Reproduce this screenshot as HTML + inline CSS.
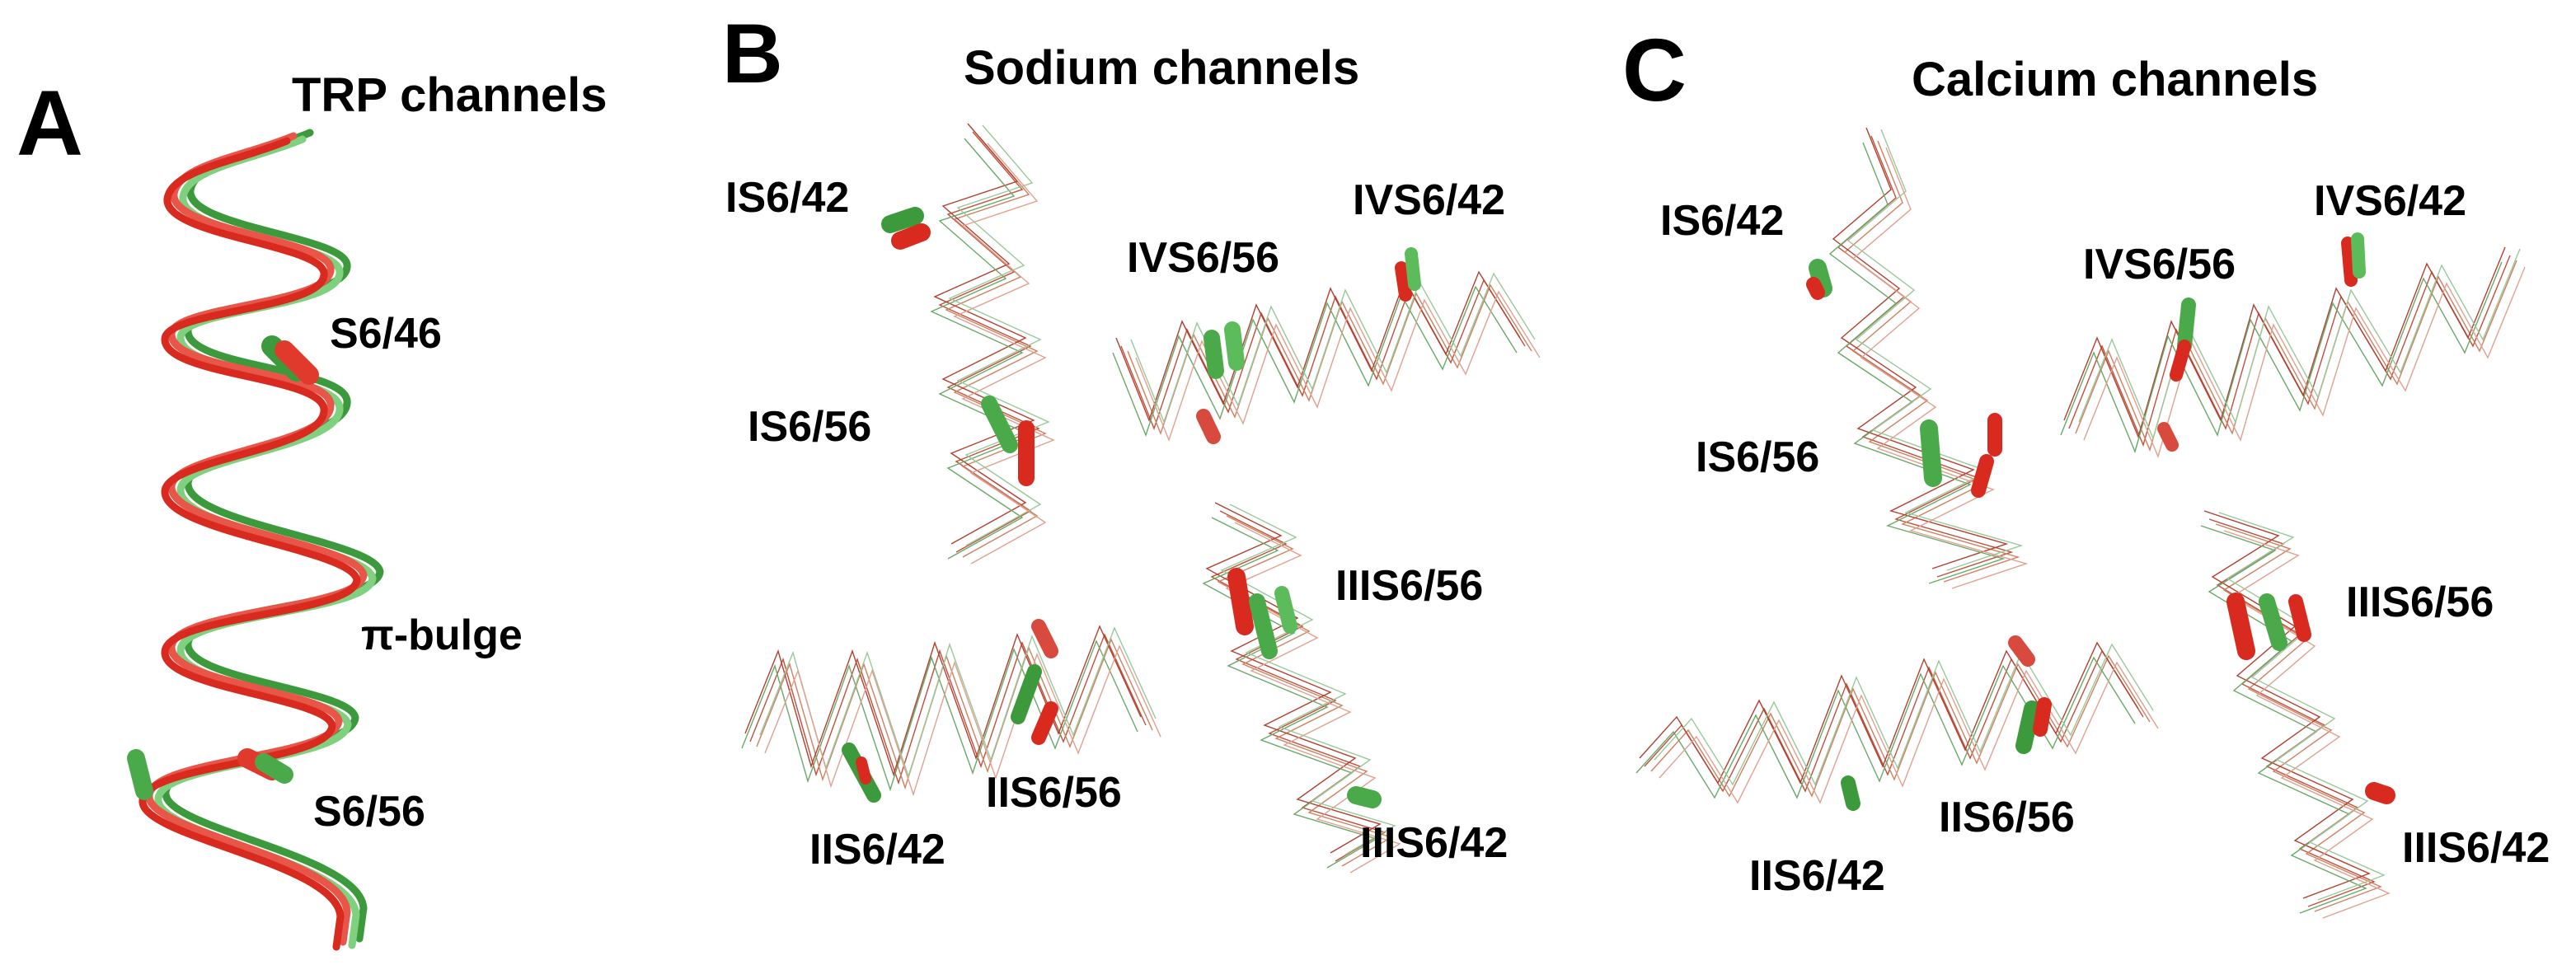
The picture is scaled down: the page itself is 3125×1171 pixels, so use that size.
<!DOCTYPE html>
<html><head><meta charset="utf-8"><style>
html,body{margin:0;padding:0;background:#fff;}
svg{display:block;}
text{font-family:"Liberation Sans",sans-serif;font-weight:bold;fill:#000;}
.w{fill:none;stroke-width:1.4;stroke-linejoin:miter;}
</style></head><body>
<svg width="3125" height="1171" viewBox="0 0 3125 1171" xmlns="http://www.w3.org/2000/svg">
<rect width="3125" height="1171" fill="#fff"/>
<defs>
<path id="bI" d="M1180,160 L1240,230 L1150,260 L1230,330 L1140,370 L1250,420 L1150,470 L1260,520 L1160,560 L1250,620 L1160,670"/>
<path id="bIV" d="M1360,420 L1400,520 L1440,400 L1490,500 L1530,380 L1580,480 L1620,360 L1670,460 L1710,350 L1760,440 L1800,340 L1850,420"/>
<path id="bIII" d="M1480,620 L1560,660 L1470,700 L1580,760 L1500,800 L1620,850 L1540,890 L1650,930 L1580,980 L1680,1010 L1620,1045"/>
<path id="bII" d="M910,900 L950,800 L990,940 L1040,800 L1090,950 L1140,790 L1190,930 L1240,780 L1290,900 L1340,770 L1390,880"/>
<path id="cI" d="M2270,165 L2300,240 L2230,300 L2310,360 L2240,420 L2330,480 L2260,530 L2400,580 L2300,630 L2440,670 L2350,700"/>
<path id="cIV" d="M2510,520 L2550,420 L2600,540 L2640,400 L2700,520 L2740,380 L2800,490 L2840,360 L2900,460 L2950,330 L3000,420 L3045,310"/>
<path id="cIII" d="M2680,630 L2770,660 L2690,710 L2790,770 L2720,830 L2820,880 L2750,930 L2860,980 L2790,1030 L2880,1070 L2800,1100"/>
<path id="cII" d="M1995,930 L2040,880 L2090,960 L2140,860 L2190,960 L2240,830 L2290,940 L2340,810 L2390,920 L2440,800 L2500,900 L2550,790 L2600,870"/>
<g id="chains">
<use href="#bI"/><use href="#bIV"/><use href="#bIII"/><use href="#bII"/>
<use href="#cI"/><use href="#cIV"/><use href="#cIII"/><use href="#cII"/>
</g>
<path id="helix" d="M360,165 C300,190 220,200 215,235 C210,280 400,290 405,325 C410,370 215,370 212,405 C210,450 400,450 405,490 C410,540 215,550 212,590 C210,640 440,660 445,698 C440,740 215,740 212,785 C210,830 410,840 415,875 C410,920 190,920 185,965 C180,1010 420,1040 425,1106 L420,1143"/>
</defs>
<g fill="none" stroke-linecap="round" stroke-width="9">
<use href="#helix" stroke="#3c9a3c" transform="translate(16,-4)"/>
<use href="#helix" stroke="#7fd07f" transform="translate(7,4)"/>
<use href="#helix" stroke="#e8564a" transform="translate(-4,0)"/>
<use href="#helix" stroke="#d82a1e" transform="translate(-12,6)"/>
</g>
<g stroke-linecap="round">
<line x1="330" y1="420" x2="360" y2="450" stroke="#3c9a3c" stroke-width="26"/>
<line x1="345" y1="425" x2="375" y2="455" stroke="#e03a2c" stroke-width="24"/>
<line x1="165" y1="920" x2="175" y2="960" stroke="#4aaa4a" stroke-width="22"/>
<line x1="300" y1="920" x2="330" y2="935" stroke="#e03a2c" stroke-width="24"/>
<line x1="320" y1="925" x2="345" y2="940" stroke="#4aaa4a" stroke-width="22"/>
</g>
<g class="w" stroke="#c0503a"><use href="#chains"/></g>
<g class="w" stroke="#d08060" transform="translate(8,6)"><use href="#chains"/></g>
<g class="w" stroke="#b04030" transform="translate(-6,-10)"><use href="#chains"/></g>
<g class="w" stroke="#6aa86a" transform="translate(-10,8)"><use href="#chains"/></g>
<g class="w" stroke="#9ac89a" transform="translate(12,-8)"><use href="#chains"/></g>
<g class="w" stroke="#e0a090" transform="translate(18,14)"><use href="#chains"/></g>
<g stroke-linecap="round">
<line x1="1080" y1="272" x2="1110" y2="262" stroke="#3c9a3c" stroke-width="22"/>
<line x1="1092" y1="292" x2="1118" y2="282" stroke="#d82a1e" stroke-width="22"/>
<line x1="1200" y1="490" x2="1225" y2="540" stroke="#4aaa4a" stroke-width="20"/>
<line x1="1245" y1="520" x2="1245" y2="580" stroke="#d82a1e" stroke-width="20"/>
<line x1="1470" y1="410" x2="1475" y2="450" stroke="#4aaa4a" stroke-width="20"/>
<line x1="1495" y1="400" x2="1500" y2="440" stroke="#5cbc5c" stroke-width="20"/>
<line x1="1460" y1="505" x2="1472" y2="530" stroke="#d84a3e" stroke-width="18"/>
<line x1="1700" y1="325" x2="1705" y2="358" stroke="#d82a1e" stroke-width="16"/>
<line x1="1712" y1="308" x2="1716" y2="345" stroke="#5cbc5c" stroke-width="16"/>
<line x1="1500" y1="700" x2="1510" y2="760" stroke="#d82a1e" stroke-width="22"/>
<line x1="1525" y1="730" x2="1540" y2="790" stroke="#4aaa4a" stroke-width="20"/>
<line x1="1555" y1="720" x2="1565" y2="760" stroke="#5cbc5c" stroke-width="18"/>
<line x1="1260" y1="760" x2="1275" y2="790" stroke="#d84a3e" stroke-width="18"/>
<line x1="1255" y1="815" x2="1235" y2="870" stroke="#3c9a3c" stroke-width="18"/>
<line x1="1275" y1="860" x2="1260" y2="895" stroke="#d82a1e" stroke-width="18"/>
<line x1="1030" y1="910" x2="1060" y2="965" stroke="#3c9a3c" stroke-width="18"/>
<line x1="1045" y1="925" x2="1050" y2="945" stroke="#d82a1e" stroke-width="14"/>
<line x1="1645" y1="965" x2="1665" y2="970" stroke="#4aaa4a" stroke-width="22"/>
<line x1="2205" y1="325" x2="2212" y2="350" stroke="#4aaa4a" stroke-width="22"/>
<line x1="2200" y1="345" x2="2205" y2="355" stroke="#d82a1e" stroke-width="18"/>
<line x1="2340" y1="520" x2="2345" y2="580" stroke="#4aaa4a" stroke-width="22"/>
<line x1="2420" y1="510" x2="2420" y2="545" stroke="#d82a1e" stroke-width="18"/>
<line x1="2410" y1="560" x2="2400" y2="595" stroke="#d82a1e" stroke-width="18"/>
<line x1="2655" y1="370" x2="2650" y2="420" stroke="#4aaa4a" stroke-width="18"/>
<line x1="2650" y1="420" x2="2640" y2="455" stroke="#d82a1e" stroke-width="16"/>
<line x1="2625" y1="520" x2="2635" y2="540" stroke="#d84a3e" stroke-width="16"/>
<line x1="2848" y1="295" x2="2852" y2="340" stroke="#d82a1e" stroke-width="16"/>
<line x1="2860" y1="290" x2="2862" y2="330" stroke="#5cbc5c" stroke-width="16"/>
<line x1="2712" y1="730" x2="2725" y2="790" stroke="#d82a1e" stroke-width="22"/>
<line x1="2750" y1="730" x2="2765" y2="780" stroke="#4aaa4a" stroke-width="20"/>
<line x1="2785" y1="730" x2="2795" y2="770" stroke="#d82a1e" stroke-width="18"/>
<line x1="2445" y1="780" x2="2460" y2="800" stroke="#d84a3e" stroke-width="18"/>
<line x1="2465" y1="860" x2="2455" y2="905" stroke="#3c9a3c" stroke-width="20"/>
<line x1="2480" y1="855" x2="2475" y2="885" stroke="#d82a1e" stroke-width="18"/>
<line x1="2242" y1="950" x2="2248" y2="975" stroke="#3c9a3c" stroke-width="18"/>
<line x1="2880" y1="960" x2="2895" y2="965" stroke="#d82a1e" stroke-width="22"/>
</g>
<text x="20" y="188" font-size="112">A</text>
<text x="354" y="135" font-size="58">TRP channels</text>
<text x="876" y="100" font-size="102">B</text>
<text x="1169" y="102" font-size="58">Sodium channels</text>
<text x="1968" y="122" font-size="108">C</text>
<text x="2319" y="116" font-size="58">Calcium channels</text>
<g font-size="52">
<text x="400" y="422">S6/46</text>
<text x="438" y="788">π-bulge</text>
<text x="380" y="1002">S6/56</text>
<text x="880" y="257">IS6/42</text>
<text x="1367" y="330">IVS6/56</text>
<text x="1641" y="260">IVS6/42</text>
<text x="907" y="535">IS6/56</text>
<text x="1620" y="728">IIIS6/56</text>
<text x="1196" y="979">IIS6/56</text>
<text x="982" y="1048">IIS6/42</text>
<text x="1650" y="1040">IIIS6/42</text>
<text x="2014" y="285">IS6/42</text>
<text x="2527" y="338">IVS6/56</text>
<text x="2807" y="261">IVS6/42</text>
<text x="2057" y="572">IS6/56</text>
<text x="2846" y="748">IIIS6/56</text>
<text x="2352" y="1009">IIS6/56</text>
<text x="2122" y="1080">IIS6/42</text>
<text x="2914" y="1046">IIIS6/42</text>
</g>
</svg>
</body></html>
